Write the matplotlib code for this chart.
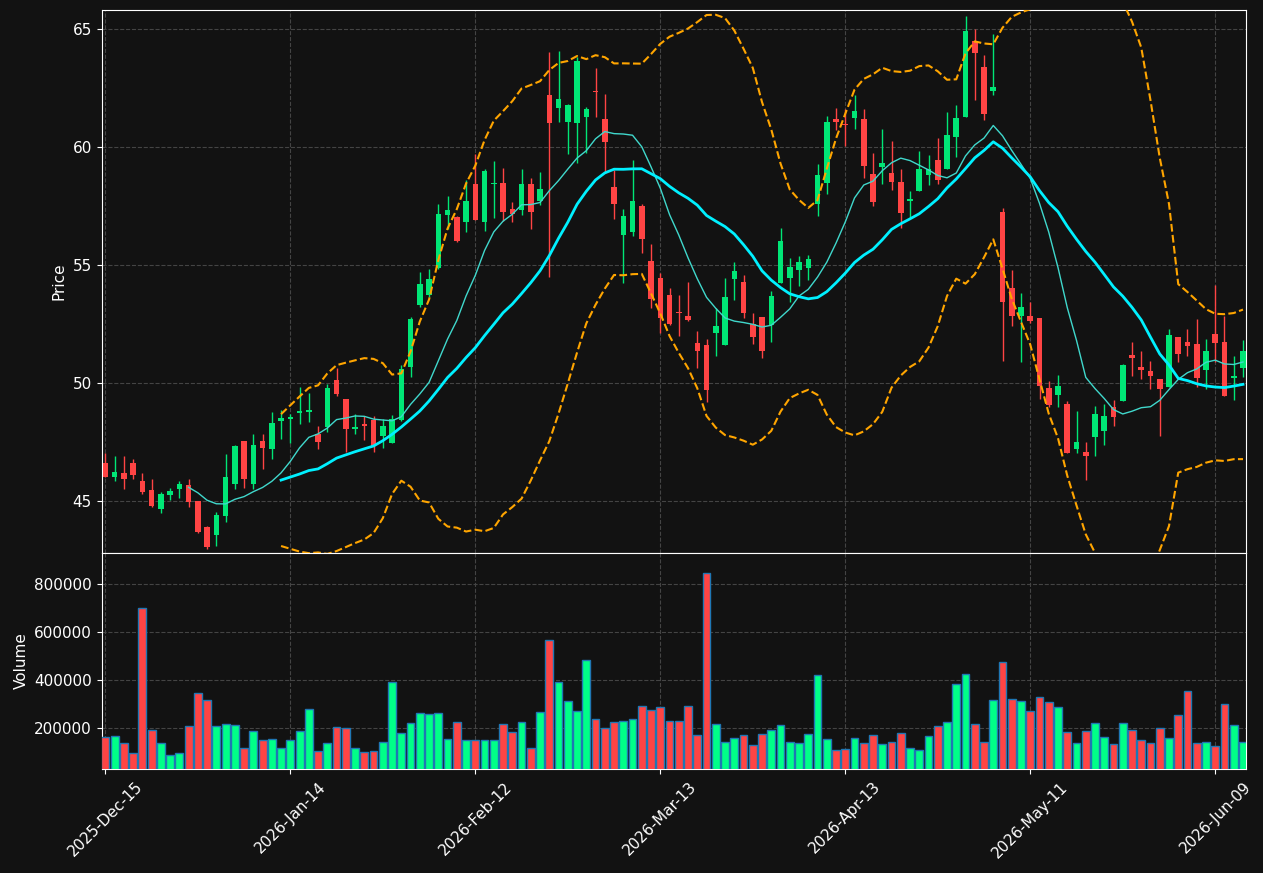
import pandas as pd
import matplotlib.pyplot as plt

holidays = ["2025-12-25", "2026-01-01", "2026-01-19", "2026-02-16", "2026-04-03", "2026-05-25"]

opens = [46.62, 46.00, 46.20, 46.62, 45.86, 45.48, 44.65, 45.24, 45.52, 45.69,
         45.01, 43.91, 43.55, 44.35, 45.73, 47.55, 45.73, 47.55, 47.19, 48.40,
         48.49, 48.72, 48.76, 47.84, 48.15, 50.14, 49.34, 48.04, 48.28, 48.45,
         47.74, 47.47, 48.43, 50.66, 53.32, 53.71, 54.86, 57.13, 57.05, 56.81,
         58.44, 56.83, 58.41, 58.48, 57.38, 57.34, 58.44, 57.72, 62.21, 61.63,
         61.04, 61.00, 61.25, 62.38, 61.19, 58.31, 56.26, 56.41, 57.51, 55.18,
         54.46, 53.74, 53.00, 52.85, 51.68, 51.62, 52.10, 51.59, 54.39, 54.29,
         52.48, 52.81, 52.45, 54.22, 54.47, 54.80, 54.89, 57.60, 58.47, 61.20,
         60.99, 61.23, 61.20, 58.87, 59.14, 58.91, 58.51, 57.69, 58.12, 58.80,
         59.46, 59.05, 60.41, 61.26, 64.48, 63.37, 62.37, 57.24, 54.02, 52.85,
         52.85, 52.74, 49.80, 49.48, 49.12, 47.22, 47.09, 47.70, 47.95, 49.00,
         49.22, 51.20, 50.69, 50.52, 50.18, 49.82, 51.96, 51.75, 51.65, 50.54,
         52.09, 51.75, 50.20, 50.62]
highs = [47.03, 46.91, 46.91, 46.78, 46.19, 45.93, 45.38, 45.55, 45.85, 45.95,
         45.02, 43.93, 44.53, 46.99, 47.37, 47.55, 47.84, 47.84, 48.79, 48.86,
         48.69, 49.83, 49.58, 48.18, 49.96, 50.64, 49.34, 48.69, 48.59, 48.59,
         48.46, 48.64, 50.76, 52.78, 54.72, 54.82, 57.60, 57.92, 57.07, 58.60,
         59.70, 59.05, 59.41, 59.12, 57.65, 59.08, 58.68, 58.95, 64.03, 64.07,
         61.83, 63.82, 61.69, 63.35, 62.24, 59.03, 57.37, 59.44, 57.60, 55.89,
         54.68, 54.02, 53.74, 54.27, 52.20, 51.86, 53.19, 54.44, 55.12, 54.58,
         52.96, 52.81, 53.89, 56.56, 55.29, 55.37, 55.42, 59.29, 61.30, 61.67,
         61.62, 62.19, 61.60, 59.75, 60.76, 60.25, 59.05, 58.13, 59.82, 59.66,
         60.38, 61.50, 61.78, 65.54, 65.01, 63.91, 64.80, 57.41, 54.77, 53.82,
         53.45, 52.74, 50.08, 50.34, 49.24, 48.81, 47.51, 49.03, 49.11, 49.27,
         50.79, 51.75, 51.37, 50.93, 50.18, 52.29, 51.96, 52.29, 52.71, 51.85,
         54.15, 52.84, 51.14, 51.82]
lows = [46.00, 45.85, 45.51, 45.93, 45.30, 44.76, 44.48, 45.04, 45.13, 44.73,
        43.66, 42.95, 43.09, 44.10, 45.49, 45.55, 45.51, 46.36, 46.78, 47.61,
        47.44, 48.26, 48.36, 47.20, 47.94, 49.44, 47.06, 47.84, 47.58, 47.06,
        47.25, 47.44, 48.38, 50.24, 53.21, 53.66, 54.83, 56.53, 55.96, 56.38,
        56.92, 56.42, 56.97, 56.88, 56.83, 57.12, 56.51, 57.55, 54.48, 61.04,
        59.70, 59.34, 59.74, 61.28, 58.88, 56.93, 54.22, 56.23, 55.51, 53.18,
        52.12, 52.45, 51.99, 52.62, 50.63, 49.18, 51.14, 51.59, 53.50, 52.74,
        51.65, 51.06, 51.73, 54.22, 53.43, 54.10, 54.36, 57.07, 58.02, 60.71,
        60.03, 60.78, 58.68, 57.48, 58.43, 58.17, 56.56, 57.01, 58.12, 58.39,
        58.43, 59.05, 59.58, 61.26, 62.00, 61.15, 62.21, 50.92, 52.40, 50.88,
        52.55, 49.32, 48.97, 48.97, 47.02, 47.02, 45.89, 46.91, 47.37, 48.18,
        49.22, 50.28, 50.17, 49.75, 47.77, 49.82, 50.89, 51.14, 49.84, 49.75,
        50.88, 49.44, 49.28, 50.24]
closes = [46.00, 46.24, 45.92, 46.09, 45.40, 44.77, 45.31, 45.44, 45.71, 44.94,
          43.70, 43.07, 44.42, 46.03, 47.34, 45.93, 47.39, 47.23, 48.32, 48.52,
          48.57, 48.80, 48.87, 47.49, 49.80, 49.52, 48.04, 48.12, 48.16, 47.34,
          48.19, 48.47, 50.59, 52.73, 54.21, 54.42, 57.18, 57.34, 56.03, 57.73,
          56.92, 58.99, 58.48, 57.26, 57.14, 58.44, 57.26, 58.23, 61.00, 62.04,
          61.78, 63.66, 61.61, 62.31, 60.19, 57.57, 57.09, 57.72, 56.09, 53.55,
          52.74, 52.48, 52.95, 52.65, 51.34, 49.69, 52.43, 53.65, 54.75, 52.95,
          51.97, 51.34, 53.70, 56.02, 54.92, 55.13, 55.26, 58.83, 61.05, 61.06,
          60.93, 61.51, 59.18, 57.65, 59.33, 58.50, 57.22, 57.80, 59.08, 59.07,
          58.58, 60.52, 61.22, 64.90, 63.98, 61.39, 62.56, 53.44, 52.85, 53.22,
          52.64, 49.89, 49.05, 49.89, 47.02, 47.51, 46.89, 48.70, 48.62, 48.55,
          50.78, 51.05, 50.54, 50.31, 49.73, 52.05, 51.21, 51.55, 50.20, 51.37,
          51.68, 49.44, 50.31, 51.37]
volumes = [162500, 166700, 137500, 95800, 700000, 191700, 137500, 87500, 95800, 208300,
           345800, 316700, 208300, 216700, 212500, 116700, 187500, 150000, 154200, 116700,
           150000, 187500, 279200, 104200, 137500, 204200, 200000, 116700, 100000, 104200,
           141700, 391700, 179200, 220800, 262500, 258300, 262500, 154200, 225000, 150000,
           150000, 150000, 150000, 216700, 183300, 225000, 116700, 266700, 566700, 391700,
           312500, 270800, 483300, 237500, 200000, 225000, 229200, 237500, 291700, 275000,
           287500, 229200, 229200, 291700, 170800, 845800, 216700, 141700, 158300, 170800,
           129200, 175000, 191700, 212500, 141700, 137500, 175000, 420800, 154200, 108300,
           112500, 158300, 137500, 170800, 133300, 141700, 179200, 116700, 108300, 166700,
           208300, 225000, 383300, 425000, 216700, 141700, 316700, 475000, 320800, 312500,
           270800, 329200, 308300, 287500, 183300, 137500, 187500, 220800, 162500, 133300,
           220800, 191700, 150000, 137500, 200000, 158300, 254200, 354200, 137500, 141700,
           125000, 300000, 212500, 141700]
tick_dates = ["2025-12-15", "2026-01-14", "2026-02-12", "2026-03-13",
              "2026-04-13", "2026-05-11", "2026-06-09"]

dates = pd.bdate_range("2025-12-15", periods=len(closes), freq="C", holidays=holidays)
df = pd.DataFrame({"Open": opens, "High": highs, "Low": lows, "Close": closes,
                   "Volume": volumes}, index=dates)

# indicators
df["ma10"] = df["Close"].rolling(10).mean()
df["ma20"] = df["Close"].rolling(20).mean()
std20 = df["Close"].rolling(20).std()
df["bb_up"] = df["ma20"] + 2 * std20
df["bb_low"] = df["ma20"] - 2 * std20

bg = "#121212"
up_c, down_c = "#00e676", "#ff4444"
vol_up, vol_down = "#00ff88", "#ff4444"

plt.rcParams["font.family"] = "DejaVu Sans"
fig = plt.figure(figsize=(12.63, 8.73), dpi=100, facecolor=bg)
ax = fig.add_axes([0.0804, 0.3671, 0.9061, 0.6214])
axv = fig.add_axes([0.0804, 0.1186, 0.9061, 0.2485], sharex=ax)

x = range(len(df))
for i, (o, h, l, c) in enumerate(zip(df["Open"], df["High"], df["Low"], df["Close"])):
    col = up_c if c >= o else down_c
    ax.vlines(i, l, h, color=col, linewidth=1, zorder=3)
    ax.bar(i, abs(c - o) if abs(c - o) > 0.04 else 0.04, bottom=min(o, c),
           width=0.6, color=col, zorder=4)

ax.plot(x, df["ma10"], color="#40d8cc", linewidth=1, zorder=5)
ax.plot(x, df["ma20"], color="#00f0ff", linewidth=2, zorder=5)
ax.plot(x, df["bb_up"], color="orange", linestyle="--", linewidth=1.5, zorder=5)
ax.plot(x, df["bb_low"], color="orange", linestyle="--", linewidth=1.5, zorder=5)

vcols = [vol_up if c >= o else vol_down for o, c in zip(df["Open"], df["Close"])]
axv.bar(x, df["Volume"], width=0.85, color=vcols, edgecolor="#1f77b4", linewidth=1, zorder=3)

tick_pos = [df.index.get_loc(pd.Timestamp(d)) for d in tick_dates]
tick_lbl = [pd.Timestamp(d).strftime("%Y-%b-%d") for d in tick_dates]

for a in (ax, axv):
    a.set_facecolor(bg)
    a.grid(True, color="#444444", linestyle="--", linewidth=0.8)
    a.set_axisbelow(True)
    for s in a.spines.values():
        s.set_color("white")
    a.tick_params(colors="white", labelsize=11)

ax.set_xlim(-0.41, 123.32)
ax.set_ylim(42.82, 65.8)
ax.set_yticks([45, 50, 55, 60, 65])
ax.set_ylabel("Price", color="white", fontsize=11)
ax.tick_params(axis="x", labelbottom=False)

axv.set_ylim(26400, 930500)
axv.set_yticks([200000, 400000, 600000, 800000])
axv.ticklabel_format(axis="y", style="plain")
axv.set_ylabel("Volume", color="white", fontsize=11)
axv.set_xticks(tick_pos)
axv.set_xticklabels(tick_lbl, rotation=45)

plt.savefig("out.png", dpi=100, facecolor=bg)
